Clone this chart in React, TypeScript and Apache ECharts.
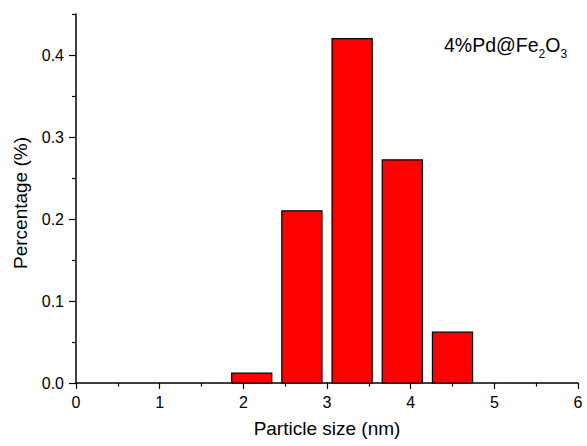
import React, { useEffect, useRef } from "react";
import * as echarts from "echarts";

const binCenters = [2.1, 2.7, 3.3, 3.9, 4.5];
const percentages = [0.012, 0.21, 0.42, 0.272, 0.062];
const binWidth = 0.48;
const yMajorTicks = [0, 0.1, 0.2, 0.3, 0.4];
const yMinorTicks = [0.05, 0.15, 0.25, 0.35, 0.45];
const xTitle = "Particle size (nm)";
const yTitle = "Percentage (%)";
const labelParts = ["4%Pd@Fe", "2", "O", "3"];

const FONT = "'Liberation Sans', Arial, Helvetica, sans-serif";

export default function App() {
  const ref = useRef<HTMLDivElement>(null);
  useEffect(() => {
    if (!ref.current) return;
    const chart = echarts.init(ref.current, null, { renderer: "svg" });
    const data = binCenters.map((c, i) => [c, percentages[i]]);
    const big = 19.5;
    const small = 12;
    const x0 = 444;
    const w0 = 4.85 * big;
    const w1 = 0.556 * small;
    const w2 = 0.778 * big;
    const mainY = 45.3;
    const subY = 54;
    chart.setOption({
      animation: false,
      backgroundColor: "#ffffff",
      textStyle: { fontFamily: FONT, color: "#000" },
      grid: { left: 76, right: 9, top: 14, bottom: 63, containLabel: false },
      xAxis: {
        type: "value",
        min: 0,
        max: 6,
        interval: 1,
        name: xTitle,
        nameLocation: "middle",
        nameGap: 36,
        nameTextStyle: { fontSize: 19, color: "#000", fontFamily: FONT },
        axisLine: { show: true, lineStyle: { color: "#000", width: 1.5 } },
        axisTick: { show: true, inside: false, length: 6, lineStyle: { color: "#000", width: 1.2 } },
        minorTick: { show: true, splitNumber: 2, length: 3.5, lineStyle: { color: "#000", width: 1.2 } },
        axisLabel: { fontSize: 16, color: "#000", margin: 11, fontFamily: FONT },
        splitLine: { show: false },
        minorSplitLine: { show: false },
      },
      yAxis: [
        {
          type: "value",
          min: 0,
          max: 0.45,
          interval: 0.1,
          axisLine: { show: true, lineStyle: { color: "#000", width: 1.5 } },
          axisTick: {
            show: true,
            inside: false,
            length: 7,
            customValues: yMajorTicks,
            lineStyle: { color: "#000", width: 1.2 },
          },
          axisLabel: {
            fontSize: 16,
            color: "#000",
            margin: 12,
            fontFamily: FONT,
            customValues: yMajorTicks,
            formatter: (v: number) => v.toFixed(1),
          },
          splitLine: { show: false },
        },
        {
          type: "value",
          min: 0,
          max: 0.45,
          position: "left",
          axisLine: { show: false },
          axisTick: {
            show: true,
            inside: false,
            length: 4,
            customValues: yMinorTicks,
            lineStyle: { color: "#000", width: 1.2 },
          },
          axisLabel: { show: false },
          splitLine: { show: false },
        },
      ],
      series: [
        {
          type: "custom",
          xAxisIndex: 0,
          yAxisIndex: 0,
          encode: { x: 0, y: 1 },
          data,
          renderItem: (params: any, api: any) => {
            const x = api.value(0);
            const y = api.value(1);
            const p0 = api.coord([x - binWidth / 2, y]);
            const p1 = api.coord([x + binWidth / 2, 0]);
            return {
              type: "rect",
              shape: { x: p0[0], y: p0[1], width: p1[0] - p0[0], height: p1[1] - p0[1] },
              style: { fill: "#ff0000", stroke: "#000", lineWidth: 1.2 },
            };
          },
        },
      ],
      graphic: [
        {
          type: "text",
          x: 20,
          y: 203,
          rotation: Math.PI / 2,
          style: {
            text: yTitle,
            fontSize: 19,
            fontFamily: FONT,
            fill: "#000",
            align: "center",
            verticalAlign: "middle",
          },
        },
        {
          type: "text",
          x: x0,
          y: mainY,
          style: { text: labelParts[0], fontSize: big, fontFamily: FONT, fill: "#000", align: "left", verticalAlign: "middle" },
        },
        {
          type: "text",
          x: x0 + w0,
          y: subY,
          style: { text: labelParts[1], fontSize: small, fontFamily: FONT, fill: "#000", align: "left", verticalAlign: "middle" },
        },
        {
          type: "text",
          x: x0 + w0 + w1,
          y: mainY,
          style: { text: labelParts[2], fontSize: big, fontFamily: FONT, fill: "#000", align: "left", verticalAlign: "middle" },
        },
        {
          type: "text",
          x: x0 + w0 + w1 + w2,
          y: subY,
          style: { text: labelParts[3], fontSize: small, fontFamily: FONT, fill: "#000", align: "left", verticalAlign: "middle" },
        },
      ],
    });
    return () => chart.dispose();
  }, []);
  return (
    <div
      ref={ref}
      style={{ position: "absolute", left: 0, top: 0, width: 587, height: 446, background: "#fff" }}
    />
  );
}
